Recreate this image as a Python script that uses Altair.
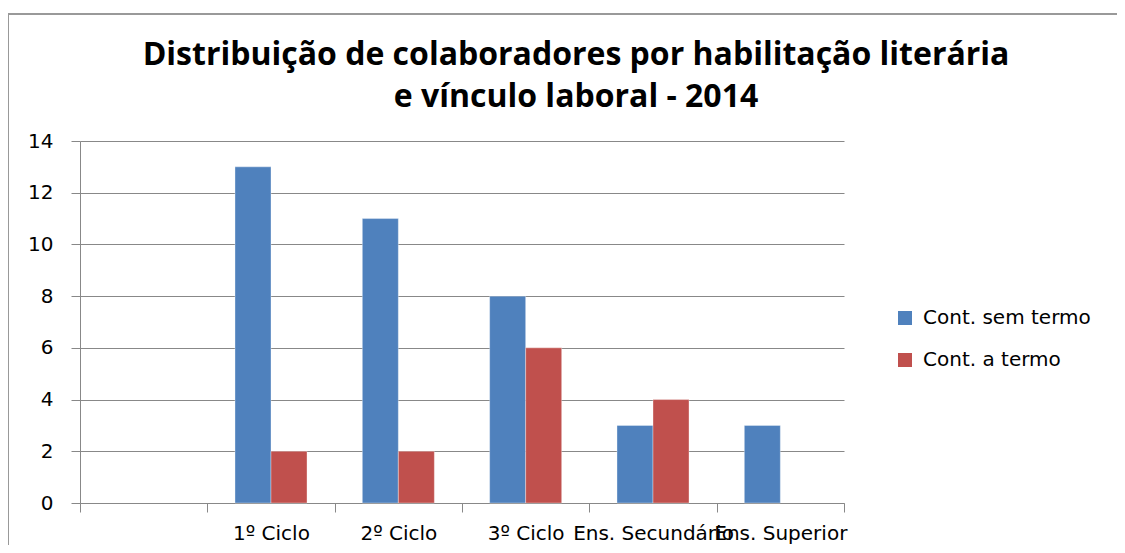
import altair as alt
import pandas as pd

categories = [" ", "1º Ciclo", "2º Ciclo", "3º Ciclo", "Ens. Secundário", "Ens. Superior"]
series_names = ["Cont. sem termo", "Cont. a termo"]
sem_termo = [None, 13, 11, 8, 3, 3]
a_termo = [None, 2, 2, 6, 4, None]
colors = ["#4F81BD", "#C0504D"]
y_ticks = [0, 2, 4, 6, 8, 10, 12, 14]
title_lines = ["Distribuição de colaboradores por habilitação literária", "e vínculo laboral - 2014"]

rows = []
for cat, a, b in zip(categories, sem_termo, a_termo):
    if a is not None:
        rows.append({"cat": cat, "serie": series_names[0], "valor": a})
    if b is not None:
        rows.append({"cat": cat, "serie": series_names[1], "valor": b})
df = pd.DataFrame(rows)

W, H = 764, 362
FONT = "DejaVu Sans"
TFONT = "Open Sans"

bars = alt.Chart(df).mark_bar(stroke="#ffffff", strokeWidth=1, strokeOpacity=0.35).encode(
    x=alt.X("cat:N", scale=alt.Scale(domain=categories, paddingInner=0, paddingOuter=0),
            axis=alt.Axis(title=None, labelAngle=0, labelOverlap=False, labelBound=False,
                          tickBand="extent", tickSize=9, tickColor="#888888", domainColor="#888888",
                          labelFont=FONT, labelFontSize=20, labelColor="#000000", labelPadding=11,
                          grid=False)),
    xOffset=alt.XOffset("serie:N", sort=series_names,
                        scale=alt.Scale(domain=series_names, paddingInner=0, paddingOuter=0.768)),
    y=alt.Y("valor:Q", scale=alt.Scale(domain=[0, 14], nice=False),
            axis=alt.Axis(title=None, values=y_ticks, tickSize=9, tickColor="#888888",
                          domainColor="#888888", gridColor="#888888", grid=True,
                          labelFont=FONT, labelFontSize=20, labelColor="#000000", labelPadding=18)),
    color=alt.Color("serie:N", sort=series_names,
                    scale=alt.Scale(domain=series_names, range=colors),
                    legend=alt.Legend(title=None, orient="none", legendX=815, legendY=167,
                                      symbolType="square", symbolSize=196, symbolStrokeWidth=0,
                                      labelFont=FONT, labelFontSize=20, labelColor="#000000",
                                      labelOffset=8, labelLimit=400, rowPadding=22, padding=0)),
)

one = pd.DataFrame({"a": [0]})

border = alt.Chart(one).mark_rect(
    fill="transparent", stroke="#999999", strokeWidth=2
).encode(
    x=alt.value(-72), x2=alt.value(1060), y=alt.value(-127), y2=alt.value(430)
)

title1 = alt.Chart(one).mark_text(
    font=TFONT, fontSize=32, fontWeight="bold", color="#000000", align="center", baseline="middle"
).encode(x=alt.value(496), y=alt.value(-86), text=alt.value(title_lines[0]))

title2 = alt.Chart(one).mark_text(
    font=TFONT, fontSize=32, fontWeight="bold", color="#000000", align="center", baseline="middle"
).encode(x=alt.value(496), y=alt.value(-44), text=alt.value(title_lines[1]))

chart = alt.layer(border, title1, title2, bars).properties(
    width=W, height=H,
    autosize=alt.AutoSizeParams(type="none"),
    padding={"left": 72, "top": 133, "right": 273, "bottom": 42},
).configure_view(stroke=None)

chart.save("out.html", embed_options={"renderer": "svg", "actions": False})
